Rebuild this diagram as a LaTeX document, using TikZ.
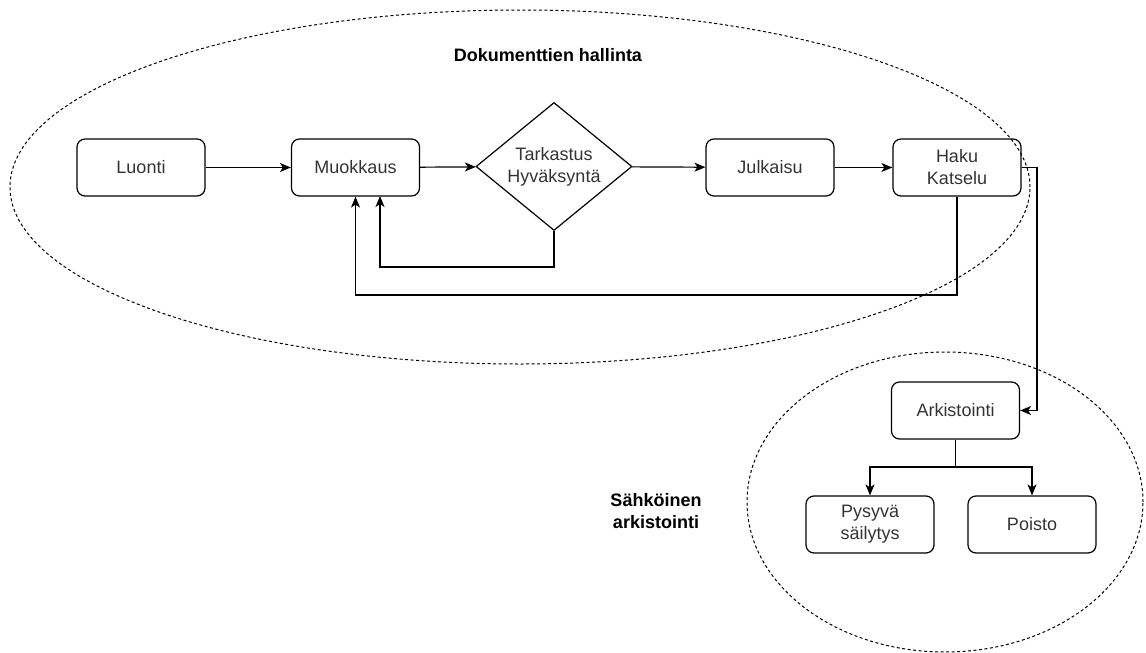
\documentclass[tikz,border=0pt]{standalone}
\usepackage{fontspec}
\setmainfont{Liberation Sans}
\usetikzlibrary{shapes.geometric,arrows.meta}
\tikzset{
  box/.style={draw, line width=1.2pt, rounded corners=8pt, minimum width=128pt, minimum height=57pt, inner sep=0pt, align=center, font=\fontsize{18}{22}\selectfont, text=black!80},
  dia/.style={draw, line width=1.2pt, diamond, minimum width=156pt, minimum height=128pt, inner sep=0pt},
  lbl/.style={align=center, font=\fontsize{18}{22}\selectfont, text=black!80},
  grp/.style={draw, dash pattern=on 3pt off 2.5pt, line width=1pt},
  title/.style={font=\bfseries\fontsize{18}{22}\selectfont, align=center},
  conn/.style={line width=1.2pt, -{Stealth[length=11pt,width=9pt,inset=3pt]}},
  plain/.style={line width=1.2pt}
}
\begin{document}
\begin{tikzpicture}[x=1pt,y=-1pt]
\useasboundingbox (0,0) rectangle (1146,653);
% group ellipses
\draw[grp] (520,187) ellipse [x radius=510pt, y radius=177pt];
\draw[grp] (945,502) ellipse [x radius=198pt, y radius=150pt];
\node[title] (t1) at (548,55) {Dokumenttien hallinta};
\node[title] (t2) at (656,511) {Sähköinen\\arkistointi};
% nodes
\node[box] (luonti) at (141,167.5) {Luonti};
\node[box] (muok) at (355.5,167.5) {Muokkaus};
\node[dia] (tark) at (554,166.5) {};
\node[lbl] (tarkt) at (554,166.5) {Tarkastus\\Hyväksyntä};
\node[box] (julk) at (770,167.5) {Julkaisu};
\node[box] (haku) at (957,167.5) {Haku\\Katselu};
\node[box] (ark) at (955.5,410.5) {Arkistointi};
\node[box] (pys) at (870,524.5) {Pysyvä\\säilytys};
\node[box] (poisto) at (1032,524.5) {Poisto};
% connectors
\draw[conn] (luonti) -- (muok);
\draw[conn] (muok) -- (tark);
\draw[conn] (tark) -- (julk);
\draw[conn] (julk) -- (haku);
\draw[conn] (tark.south) |- (380,267) -- (380,196);
\draw[conn] (haku.south) |- (355.5,295) -- (muok.south);
\coordinate (hk) at (1037,167.5);
\draw[conn] (haku.east) -- (hk) |- (ark.east);
\coordinate (br) at (955.5,467);
\draw[plain] (ark.south) -- (br);
\draw[conn] (br) -| (pys.north);
\draw[conn] (br) -| (poisto.north);
\end{tikzpicture}
\end{document}
